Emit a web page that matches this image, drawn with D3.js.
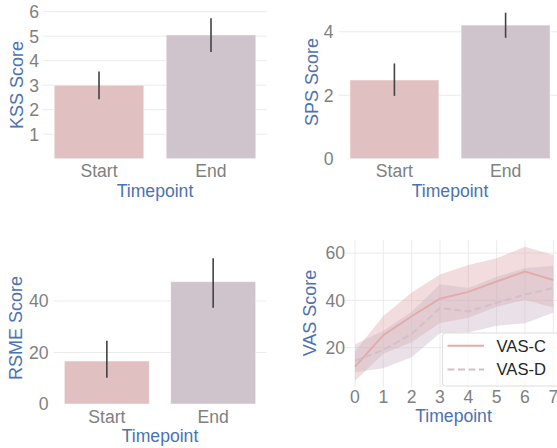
<!DOCTYPE html>
<html><head><meta charset="utf-8">
<script src="https://cdn.jsdelivr.net/npm/d3@7"></script>
<style>body{margin:0;background:#fff}svg{display:block}text{font-family:"Liberation Sans",Arial,sans-serif}</style>
</head><body>
<svg id="c" width="557" height="448"></svg>
<script>
const categories = ["Start", "End"];
const kssMean = [3.0, 5.05], kssLo = [2.43, 4.35], kssHi = [3.56, 5.73];
const spsMean = [2.48, 4.21], spsLo = [1.98, 3.81], spsHi = [3.0, 4.6];
const rsmeMean = [16.7, 47.5], rsmeLo = [10.2, 37.4], rsmeHi = [24.6, 56.6];
const kssTicks = [1, 2, 3, 4, 5, 6];
const spsTicks = [0, 2, 4];
const rsmeTicks = [0, 20, 40];
const timepoints = [0, 1, 2, 3, 4, 5, 6, 7];
const vasC   = [12.0, 25.3, 33.3, 40.7, 43.6, 48.0, 52.2, 48.6];
const vasCLo = [6.0, 17.4, 22.3, 30.3, 32.7, 37.3, 40.2, 37.0];
const vasCHi = [18.5, 33.4, 43.3, 51.0, 55.0, 57.8, 62.7, 59.2];
const vasD   = [14.5, 19.0, 25.8, 36.8, 35.3, 39.0, 42.5, 45.2];
const vasDLo = [9.6, 11.3, 15.9, 26.1, 26.4, 29.3, 30.3, 34.8];
const vasDHi = [21.4, 27.2, 35.2, 46.8, 45.2, 50.0, 53.6, 54.7];
const vasTicks = [20, 40, 60];
const seriesNames = ["VAS-C", "VAS-D"];

const svg = d3.select("#c");
const TICK = "#808080", LAB = "#4c72b0", GRID = "#ebebeb";
const barColors = ["#e1c0c1", "#cfc3cc"];
const FS = "17.6px";

function barPanel(o) {
  const g = svg.append("g");
  const x = d3.scaleBand().domain(categories).range([o.x0, o.x1]).paddingInner(0.2).paddingOuter(0.1);
  const y = d3.scaleLinear().domain(o.domain).range([o.y0, o.y1]);
  g.selectAll(".g").data(o.ticks.filter(t => t > 0 && t <= o.domain[1])).enter().append("line")
    .attr("x1", o.x0).attr("x2", o.x1).attr("y1", d => y(d)).attr("y2", d => y(d))
    .attr("stroke", GRID).attr("stroke-width", 1);
  g.selectAll(".b").data(categories).enter().append("rect")
    .attr("x", d => x(d)).attr("width", x.bandwidth())
    .attr("y", (d, i) => y(o.mean[i])).attr("height", (d, i) => y(0) - y(o.mean[i]))
    .attr("fill", (d, i) => barColors[i]).attr("stroke", "#ffffff").attr("stroke-opacity", 0.5).attr("stroke-width", 1);
  g.selectAll(".e").data(categories).enter().append("line")
    .attr("x1", d => x(d) + x.bandwidth() / 2).attr("x2", d => x(d) + x.bandwidth() / 2)
    .attr("y1", (d, i) => y(o.lo[i])).attr("y2", (d, i) => y(o.hi[i]))
    .attr("stroke", "#424242").attr("stroke-width", 1.6);
  g.selectAll(".yt").data(o.ticks).enter().append("text")
    .attr("x", o.yTickX).attr("y", d => y(d)).attr("dy", "0.36em").attr("text-anchor", "end")
    .attr("fill", TICK).style("font-size", FS).text(d => d);
  g.selectAll(".xt").data(categories).enter().append("text")
    .attr("x", d => x(d) + x.bandwidth() / 2).attr("y", o.xTickY).attr("text-anchor", "middle")
    .attr("fill", TICK).style("font-size", FS).text(d => d);
  g.append("text").attr("x", (x(categories[0]) + x(categories[1]) + x.bandwidth()) / 2).attr("y", o.xLabY)
    .attr("text-anchor", "middle").attr("fill", LAB).style("font-size", FS).text("Timepoint");
  g.append("text").attr("transform", `translate(${o.yLabX},${o.yLabY}) rotate(-90)`)
    .attr("text-anchor", "middle").attr("dy", "0.36em").attr("fill", LAB).style("font-size", "18px").text(o.ylabel);
}

barPanel({x0: 43, x1: 267, y0: 158.7, y1: 10.7, domain: [0, 6.04], mean: kssMean, lo: kssLo, hi: kssHi,
  ticks: kssTicks, yTickX: 39, xTickY: 176.7, xLabY: 196.5, yLabX: 17, yLabY: 85, ylabel: "KSS Score"});
barPanel({x0: 338.8, x1: 561.2, y0: 158.7, y1: 5.4, domain: [0, 4.83], mean: spsMean, lo: spsLo, hi: spsHi,
  ticks: spsTicks, yTickX: 333.5, xTickY: 176.7, xLabY: 196.5, yLabX: 312, yLabY: 82, ylabel: "SPS Score"});
barPanel({x0: 53.7, x1: 266.3, y0: 404, y1: 251, domain: [0, 59.4], mean: rsmeMean, lo: rsmeLo, hi: rsmeHi,
  ticks: rsmeTicks, yTickX: 48.5, xTickY: 422.7, xLabY: 442.3, yLabX: 16, yLabY: 328, ylabel: "RSME Score"});

(function () {
  const g = svg.append("g");
  const x = d3.scaleLinear().domain([-0.35, 7.35]).range([345.1, 563.2]);
  const y = d3.scaleLinear().domain([3.2, 65.5]).range([387.4, 240.1]);
  const X0 = 345.1, X1 = 563.2;
  g.selectAll(".vg").data(timepoints).enter().append("line")
    .attr("x1", d => x(d)).attr("x2", d => x(d)).attr("y1", y(3.2)).attr("y2", y(65.5))
    .attr("stroke", GRID);
  g.selectAll(".hg").data(vasTicks).enter().append("line")
    .attr("x1", X0).attr("x2", X1).attr("y1", d => y(d)).attr("y2", d => y(d))
    .attr("stroke", GRID);
  const area = (lo, hi) => d3.area().x((d, i) => x(timepoints[i])).y0((d, i) => y(lo[i])).y1((d, i) => y(hi[i]))(timepoints);
  const line = v => d3.line().x((d, i) => x(timepoints[i])).y((d, i) => y(v[i]))(timepoints);
  g.append("path").attr("d", area(vasCLo, vasCHi)).attr("fill", "#e2a7ab").attr("fill-opacity", 0.4);
  g.append("path").attr("d", area(vasDLo, vasDHi)).attr("fill", "#c8b3c3").attr("fill-opacity", 0.4);
  g.append("path").attr("d", line(vasC)).attr("fill", "none").attr("stroke", "#e3abab").attr("stroke-width", 2);
  g.append("path").attr("d", line(vasD)).attr("fill", "none").attr("stroke", "#d3bfcb").attr("stroke-width", 2)
    .attr("stroke-dasharray", "7,3.5");
  g.selectAll(".yt").data(vasTicks).enter().append("text")
    .attr("x", 345).attr("y", d => y(d)).attr("dy", "0.36em").attr("text-anchor", "end")
    .attr("fill", TICK).style("font-size", FS).text(d => d);
  g.selectAll(".xt").data(timepoints).enter().append("text")
    .attr("x", d => x(d)).attr("y", 403.3).attr("text-anchor", "middle")
    .attr("fill", TICK).style("font-size", FS).text(d => d);
  g.append("text").attr("x", 453.5).attr("y", 421.7).attr("text-anchor", "middle")
    .attr("fill", LAB).style("font-size", FS).text("Timepoint");
  g.append("text").attr("transform", "translate(310,313) rotate(-90)").attr("text-anchor", "middle")
    .attr("dy", "0.36em").attr("fill", LAB).style("font-size", "18px").text("VAS Score");
  const lg = g.append("g");
  lg.append("rect").attr("x", 442.5).attr("y", 333).attr("width", 130).attr("height", 53).attr("rx", 3)
    .attr("fill", "#ffffff").attr("fill-opacity", 0.8).attr("stroke", "#dddddd");
  const ly = [345.7, 369.5];
  lg.selectAll(".ll").data(seriesNames).enter().append("line")
    .attr("x1", 447.5).attr("x2", 484).attr("y1", (d, i) => ly[i]).attr("y2", (d, i) => ly[i])
    .attr("stroke", (d, i) => i ? "#d3bfcb" : "#e3abab").attr("stroke-width", 2)
    .attr("stroke-dasharray", (d, i) => i ? "7,3.5" : null);
  lg.selectAll(".lt").data(seriesNames).enter().append("text")
    .attr("x", 496.5).attr("y", (d, i) => ly[i]).attr("dy", "0.36em")
    .attr("fill", "#262626").style("font-size", "16.6px").text(d => d);
})();
</script>
</body></html>
